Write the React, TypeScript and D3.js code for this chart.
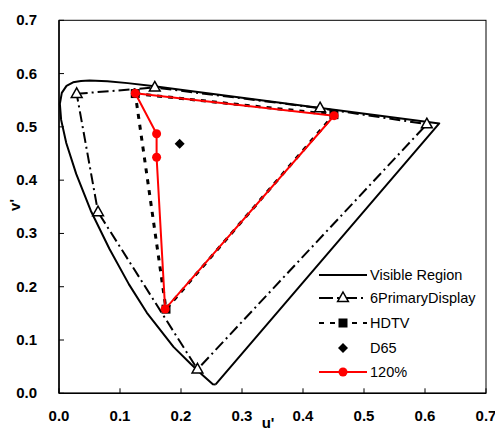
import React from 'react';
import * as d3 from 'd3';

// Spectral locus (u', v') 380 -> 700 nm
const locusU = [0.2568, 0.2522, 0.2347, 0.2161, 0.1877, 0.1441, 0.1147, 0.0828, 0.0521, 0.0282, 0.0119, 0.0035, 0.0014, 0.0046, 0.0123, 0.0231, 0.0360, 0.0501, 0.0792, 0.1127, 0.1531, 0.2026, 0.2623, 0.3315, 0.4035, 0.5203, 0.5830, 0.6234];
const locusV = [0.0166, 0.0169, 0.0350, 0.0549, 0.0871, 0.1510, 0.2044, 0.2708, 0.3427, 0.4117, 0.4698, 0.5131, 0.5432, 0.5638, 0.5770, 0.5837, 0.5861, 0.5868, 0.5856, 0.5821, 0.5766, 0.5694, 0.5604, 0.5501, 0.5393, 0.5219, 0.5125, 0.5065];

const sixU = [0.029, 0.157, 0.428, 0.603, 0.227, 0.064];
const sixV = [0.562, 0.574, 0.535, 0.505, 0.045, 0.340];

const hdtvU = [0.125, 0.4507, 0.1754];
const hdtvV = [0.5625, 0.5229, 0.1579];

const d65U = [0.1978];
const d65V = [0.4683];

const p120U = [0.125, 0.451, 0.174, 0.160, 0.160];
const p120V = [0.563, 0.521, 0.158, 0.443, 0.487];

const ticks = [0, 0.1, 0.2, 0.3, 0.4, 0.5, 0.6, 0.7];
const legendLabels = ['Visible Region', '6PrimaryDisplay', 'HDTV', 'D65', '120%'];

const W = 495, H = 431;
const x = d3.scaleLinear().domain([0, 0.7]).range([59, 486]);
const y = d3.scaleLinear().domain([0, 0.7]).range([393.3, 20.3]);

const zip = (us: number[], vs: number[]) => us.map((u, i) => [u, vs[i]] as [number, number]);
const line = d3.line<[number, number]>().x(d => x(d[0])).y(d => y(d[1]));
const closed = (pts: [number, number][]) => line([...pts, pts[0]]) as string;

const triPath = (cx: number, cy: number, s = 6) => `M${cx},${cy - s}L${cx + s * 0.9},${cy + s * 0.6}L${cx - s * 0.9},${cy + s * 0.6}Z`;
const diamondPath = (cx: number, cy: number, s = 5) => `M${cx},${cy - s}L${cx + s},${cy}L${cx},${cy + s}L${cx - s},${cy}Z`;

const SIX_DASH = '11,4,2,4';
const HD_DASH = '5,6';

export default function App() {
  const locus = zip(locusU, locusV);
  const six = zip(sixU, sixV);
  const hd = zip(hdtvU, hdtvV);
  const d65 = zip(d65U, d65V);
  const p120 = zip(p120U, p120V);

  const lx1 = 319, lx2 = 367, lmid = 343, ltx = 370;
  const rows = [275, 298, 323, 348, 372];

  return (
    <svg width={W} height={H} style={{ position: 'absolute', left: 0, top: 0, background: '#fff' }} fontFamily="Arial, 'Liberation Sans', sans-serif">
      <rect x={0} y={0} width={W} height={H} fill="#fff" />
      {/* frame */}
      <rect x={x(0)} y={y(0.7)} width={x(0.7) - x(0)} height={y(0) - y(0.7)} fill="none" stroke="#000" strokeWidth={1} />
      <line x1={x(0)} x2={x(0)} y1={y(0)} y2={y(0.7)} stroke="#000" strokeWidth={1.5} />
      <line x1={x(0)} x2={x(0.7)} y1={y(0)} y2={y(0)} stroke="#000" strokeWidth={1.5} />
      {/* ticks */}
      {ticks.map(t => (
        <g key={'xt' + t}>
          <line x1={x(t)} x2={x(t)} y1={y(0)} y2={y(0) - 5} stroke="#000" />
          <text x={x(t)} y={421} textAnchor="middle" fontWeight="bold" fontSize={15}>{t.toFixed(1)}</text>
        </g>
      ))}
      {ticks.map(t => (
        <g key={'yt' + t}>
          <line x1={x(0)} x2={x(0) + 5} y1={y(t)} y2={y(t)} stroke="#000" />
          <text x={37} y={y(t) + 5} textAnchor="end" fontWeight="bold" fontSize={15}>{t.toFixed(1)}</text>
        </g>
      ))}
      <text x={268} y={428} textAnchor="middle" fontWeight="bold" fontSize={15}>u'</text>
      <text transform={`translate(20,205) rotate(-90)`} textAnchor="middle" fontWeight="bold" fontSize={15}>v'</text>

      {/* visible region */}
      <path d={closed(locus)} fill="none" stroke="#000" strokeWidth={2} strokeLinejoin="round" />
      {/* 6 primary */}
      <path d={closed(six)} fill="none" stroke="#000" strokeWidth={2} strokeDasharray={SIX_DASH} />
      {six.map((p, i) => (
        <path key={'s' + i} d={triPath(x(p[0]), y(p[1]))} fill="#fff" stroke="#000" strokeWidth={1.5} />
      ))}
      {/* HDTV */}
      <path d={closed(hd)} fill="none" stroke="#000" strokeWidth={3} strokeDasharray={HD_DASH} />
      {hd.map((p, i) => (
        <rect key={'h' + i} x={x(p[0]) - 4.5} y={y(p[1]) - 4.5} width={9} height={9} fill="#000" />
      ))}
      {/* D65 */}
      {d65.map((p, i) => (
        <path key={'d' + i} d={diamondPath(x(p[0]), y(p[1]))} fill="#000" />
      ))}
      {/* 120% */}
      <path d={closed(p120)} fill="none" stroke="#ff0000" strokeWidth={2} />
      {p120.map((p, i) => (
        <circle key={'r' + i} cx={x(p[0])} cy={y(p[1])} r={4.5} fill="#ff0000" />
      ))}

      {/* legend */}
      <g fontSize={14.5}>
        <line x1={lx1} x2={lx2} y1={rows[0]} y2={rows[0]} stroke="#000" strokeWidth={2} />
        <line x1={lx1} x2={lx2} y1={rows[1]} y2={rows[1]} stroke="#000" strokeWidth={2} strokeDasharray="14,4,2,4" />
        <path d={triPath(lmid, rows[1])} fill="#fff" stroke="#000" strokeWidth={1.5} />
        <line x1={lx1} x2={lx2} y1={rows[2]} y2={rows[2]} stroke="#000" strokeWidth={2} strokeDasharray="5,6" />
        <rect x={lmid - 4.5} y={rows[2] - 4.5} width={9} height={9} fill="#000" />
        <path d={diamondPath(lmid, rows[3])} fill="#000" />
        <line x1={lx1} x2={lx2} y1={rows[4]} y2={rows[4]} stroke="#ff0000" strokeWidth={2} />
        <circle cx={lmid} cy={rows[4]} r={4.5} fill="#ff0000" />
        {legendLabels.map((l, i) => (
          <text key={l} x={ltx} y={rows[i] + 5}>{l}</text>
        ))}
      </g>
    </svg>
  );
}
